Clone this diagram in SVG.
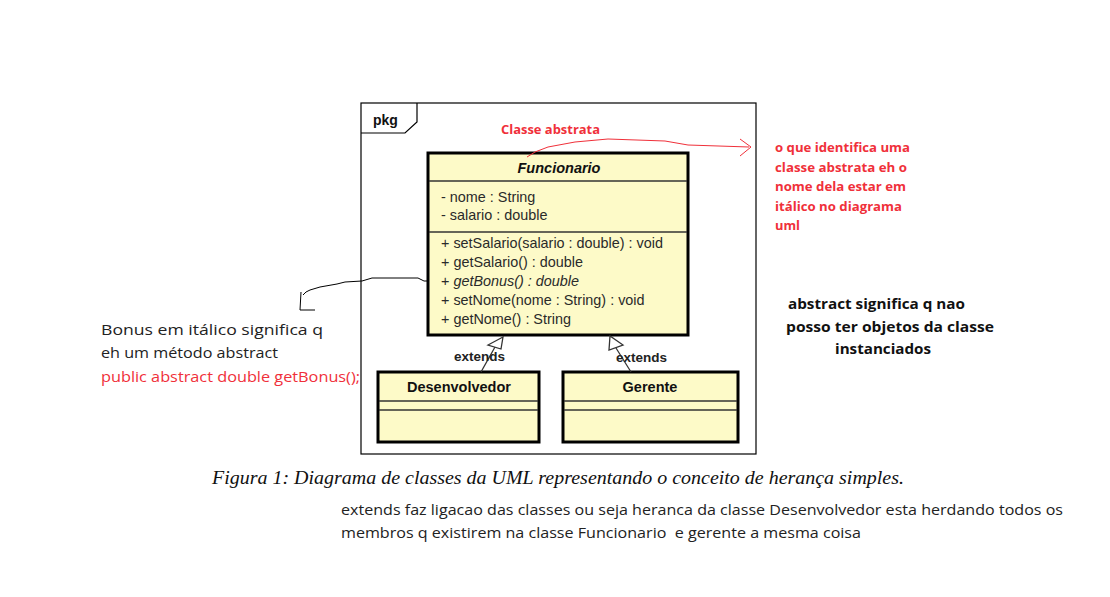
<svg xmlns="http://www.w3.org/2000/svg" width="1110" height="597" viewBox="0 0 1110 597">
<style>
.cls{fill:#fdfac8;stroke:#000;stroke-width:3}
.sep{stroke:#333;stroke-width:1.5}
.m{font-family:"Liberation Sans",Arial,sans-serif;font-size:14.4px;fill:#2a2a2a}
.t{font-family:"Liberation Sans",Arial,sans-serif;font-size:14.5px;font-weight:bold;fill:#111;text-anchor:middle}
.ext{font-family:"Liberation Sans",Arial,sans-serif;font-size:13.5px;font-weight:bold;fill:#222}
.red{font-family:"Open Sans","Liberation Sans",sans-serif;font-weight:bold;font-size:13px;fill:#f0303a}
.note{font-family:"Open Sans","Liberation Sans",sans-serif;font-size:15px;fill:#222}
.noteb{font-family:"Open Sans","Liberation Sans",sans-serif;font-size:15px;font-weight:bold;fill:#111}
</style>
<rect width="1110" height="597" fill="#fff"/>
<g id="frame">
<rect x="361" y="103" width="395" height="351" fill="none" stroke="#000" stroke-width="1.2"/>
<path d="M361 133 H405 L417 122 V103" fill="none" stroke="#000" stroke-width="1.2"/>
<text x="373" y="125" font-family="Liberation Sans,Arial,sans-serif" font-size="14" font-weight="bold" fill="#111">pkg</text>
</g>
<g id="Funcionario">
<rect class="cls" x="428" y="153" width="260" height="182"/>
<line class="sep" x1="429" y1="181" x2="687" y2="181"/>
<line class="sep" x1="429" y1="232" x2="687" y2="232"/>
<text class="t" x="559" y="173" font-style="italic">Funcionario</text>
<text class="m" x="441" y="202">- nome : String</text>
<text class="m" x="441" y="220">- salario : double</text>
<text class="m" x="441" y="248">+ setSalario(salario : double) : void</text>
<text class="m" x="441" y="267">+ getSalario() : double</text>
<text class="m" x="441" y="286">+ <tspan font-style="italic">getBonus() : double</tspan></text>
<text class="m" x="441" y="305">+ setNome(nome : String) : void</text>
<text class="m" x="441" y="324">+ getNome() : String</text>
</g>
<g id="Desenvolvedor">
<rect class="cls" x="378" y="372" width="161" height="70"/>
<line class="sep" x1="379" y1="401" x2="538" y2="401"/>
<line class="sep" x1="379" y1="410" x2="538" y2="410"/>
<text class="t" x="459" y="392">Desenvolvedor</text>
</g>
<g id="Gerente">
<rect class="cls" x="563" y="372" width="175" height="70"/>
<line class="sep" x1="564" y1="401" x2="737" y2="401"/>
<line class="sep" x1="564" y1="410" x2="737" y2="410"/>
<text class="t" x="650" y="392">Gerente</text>
</g>
<g id="connectors" fill="none">
<line x1="481" y1="372" x2="495" y2="347" stroke="#333" stroke-width="1.3"/>
<polygon points="503,337 488,345 501,349" fill="#fff" stroke="#333" stroke-width="1.3"/>
<line x1="631" y1="372" x2="616" y2="348" stroke="#333" stroke-width="1.3"/>
<polygon points="610,336 609,350 623,345" fill="#fff" stroke="#333" stroke-width="1.3"/>
<text class="ext" x="454" y="361">extends</text>
<text class="ext" x="616" y="362">extends</text>
<path d="M527 157 L535 152 L548 147 L575 142 L608 139 L665 141 L688 145 L749 147" stroke="#f0303a" stroke-width="1"/>
<path d="M740 139 L751 147 L740 156" stroke="#f0303a" stroke-width="1"/>
<path d="M428 281 L424 281 L418 278 L372 278 L362 281 L345 282 L337 284 L320 287 L310 290 L306 292 L303 295" stroke="#000" stroke-width="1"/>
<path d="M301 292 L300 310 L315 310" stroke="#000" stroke-width="1"/>
</g>
<g id="notes">
<text class="red" x="501" y="134" textLength="99" lengthAdjust="spacingAndGlyphs">Classe abstrata</text>
<text class="red" x="775" y="152" textLength="135" lengthAdjust="spacingAndGlyphs">o que identifica uma</text>
<text class="red" x="775" y="172" textLength="132" lengthAdjust="spacingAndGlyphs">classe abstrata eh o</text>
<text class="red" x="775" y="191" textLength="131" lengthAdjust="spacingAndGlyphs">nome dela estar em</text>
<text class="red" x="775" y="211" textLength="127" lengthAdjust="spacingAndGlyphs">itálico no diagrama</text>
<text class="red" x="775" y="230" textLength="25" lengthAdjust="spacingAndGlyphs">uml</text>
<text class="note" x="101" y="335" textLength="222" lengthAdjust="spacingAndGlyphs">Bonus em itálico significa q</text>
<text class="note" x="101" y="358" textLength="177" lengthAdjust="spacingAndGlyphs">eh um método abstract</text>
<text class="note" x="101" y="382" textLength="259" lengthAdjust="spacingAndGlyphs" style="fill:#f0303a">public abstract double getBonus();</text>
<text class="noteb" x="788" y="309" textLength="177" lengthAdjust="spacingAndGlyphs">abstract significa q nao</text>
<text class="noteb" x="786" y="332" textLength="208" lengthAdjust="spacingAndGlyphs">posso ter objetos da classe</text>
<text class="noteb" x="835" y="354" textLength="96" lengthAdjust="spacingAndGlyphs">instanciados</text>
<text x="212" y="484" font-family="Liberation Serif,Times New Roman,serif" font-style="italic" font-size="18" fill="#111" textLength="692" lengthAdjust="spacingAndGlyphs">Figura 1: Diagrama de classes da UML representando o conceito de herança simples.</text>
<text class="note" x="341" y="515" textLength="722" lengthAdjust="spacingAndGlyphs">extends faz ligacao das classes ou seja heranca da classe Desenvolvedor esta herdando todos os</text>
<text class="note" x="341" y="538" textLength="520" lengthAdjust="spacingAndGlyphs" xml:space="preserve">membros q existirem na classe Funcionario  e gerente a mesma coisa</text>
</g>
</svg>
